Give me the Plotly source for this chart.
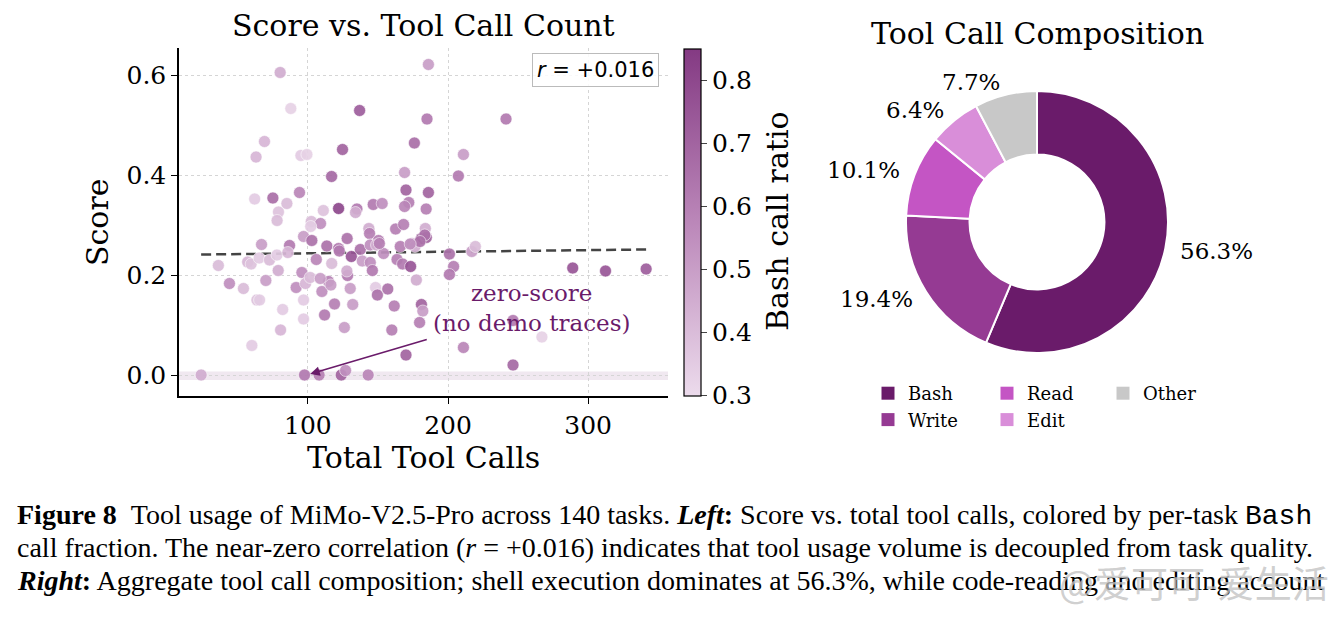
import plotly.graph_objects as go
import numpy as np

# ---------------- data ----------------
tool_calls = [80.2, 87.8, 136.9, 186.0, 185.0, 69.0, 63.0, 124.7, 176.0, 95.0,
              99.3, 116.9, 169.0, 62.0, 75.0, 94.0, 85.0, 79.0, 111.0, 121.9,
              135.0, 134.0, 146.6, 153.0, 170.0, 172.0, 169.0, 186.0, 184.4, 241.4,
              211.0, 207.4, 78.0, 102.4, 109.0, 102.0, 96.9, 102.8, 66.9, 86.9,
              113.5, 143.5, 144.0, 128.0, 162.6, 168.3, 183.8, 181.0, 184.5, 121.9,
              137.4, 144.5, 150.4, 165.9, 174.3, 36.1, 57.0, 59.5, 65.2, 72.6,
              77.9, 85.7, 106.0, 44.0, 54.0, 70.0, 78.8, 63.6, 65.5, 82.0,
              80.5, 60.0, 95.7, 91.6, 98.3, 96.9, 96.9, 110.0, 111.9, 114.7,
              101.6, 108.8, 23.8, 97.6, 108.0, 131.0, 122.4, 149.0, 138.8, 144.5,
              146.0, 154.0, 163.6, 167.6, 173.3, 176.4, 183.4, 177.4, 117.0, 116.4,
              128.3, 127.8, 130.2, 119.0, 132.0, 126.0, 148.3, 149.6, 157.0, 161.6,
              159.9, 170.0, 181.0, 182.0, 179.7, 123.8, 126.9, 143.0, 201.0, 204.0,
              201.0, 211.0, 217.0, 219.5, 289.0, 312.4, 341.4, 246.4, 267.0, 246.4,
              151.0, 180.0, 173.0]
scores = [0.605, 0.533, 0.529, 0.621, 0.512, 0.467, 0.436, 0.451, 0.464, 0.439,
          0.441, 0.397, 0.405, 0.352, 0.354, 0.365, 0.343, 0.326, 0.329, 0.333,
          0.332, 0.325, 0.341, 0.343, 0.370, 0.345, 0.337, 0.365, 0.332, 0.512,
          0.441, 0.398, 0.309, 0.307, 0.303, 0.297, 0.277, 0.269, 0.261, 0.259,
          0.258, 0.293, 0.283, 0.273, 0.292, 0.301, 0.293, 0.273, 0.275, 0.253,
          0.251, 0.260, 0.269, 0.257, 0.263, 0.219, 0.226, 0.222, 0.234, 0.230,
          0.240, 0.245, 0.231, 0.183, 0.173, 0.189, 0.209, 0.150, 0.150, 0.131,
          0.090, 0.059, 0.205, 0.175, 0.183, 0.150, 0.112, 0.167, 0.120, 0.187,
          0.195, 0.193, 0.000, 0.000, 0.000, 0.237, 0.248, 0.260, 0.228, 0.225,
          0.209, 0.243, 0.231, 0.222, 0.217, 0.257, 0.280, 0.190, 0.223, 0.180,
          0.199, 0.208, 0.173, 0.142, 0.141, 0.095, 0.175, 0.160, 0.172, 0.138,
          0.090, 0.040, 0.141, 0.128, 0.105, 0.000, 0.009, 0.000, 0.242, 0.217,
          0.201, 0.055, 0.247, 0.257, 0.214, 0.208, 0.212, 0.109, 0.076, 0.020,
          0.263, 0.267, 0.262]
bash_ratio = [0.45, 0.33, 0.72, 0.50, 0.62, 0.42, 0.42, 0.70, 0.66, 0.35,
              0.33, 0.68, 0.50, 0.35, 0.66, 0.58, 0.40, 0.38, 0.38, 0.80,
              0.62, 0.45, 0.62, 0.55, 0.70, 0.60, 0.58, 0.70, 0.60, 0.62,
              0.50, 0.62, 0.40, 0.40, 0.55, 0.35, 0.50, 0.65, 0.50, 0.62,
              0.65, 0.45, 0.60, 0.65, 0.60, 0.60, 0.45, 0.80, 0.70, 0.62,
              0.65, 0.55, 0.60, 0.60, 0.45, 0.40, 0.42, 0.38, 0.35, 0.40,
              0.35, 0.42, 0.58, 0.55, 0.40, 0.50, 0.45, 0.38, 0.35, 0.35,
              0.42, 0.35, 0.55, 0.55, 0.42, 0.35, 0.35, 0.55, 0.62, 0.60,
              0.40, 0.50, 0.45, 0.62, 0.60, 0.75, 0.62, 0.45, 0.50, 0.55,
              0.62, 0.55, 0.60, 0.62, 0.75, 0.45, 0.65, 0.45, 0.40, 0.50,
              0.62, 0.45, 0.50, 0.60, 0.50, 0.50, 0.35, 0.65, 0.65, 0.60,
              0.60, 0.70, 0.70, 0.50, 0.60, 0.70, 0.55, 0.58, 0.65, 0.60,
              0.62, 0.58, 0.50, 0.40, 0.75, 0.75, 0.72, 0.62, 0.33, 0.68,
              0.60, 0.65, 0.55]

trend_x = [23.8, 341.4]
trend_y = [0.241, 0.251]
zero_band = [-0.010, 0.007]
r_value = 0.016

x_ticks = [100, 200, 300]
y_ticks = [0.0, 0.2, 0.4, 0.6]
cbar_ticks = [0.3, 0.4, 0.5, 0.6, 0.7, 0.8]
cbar_range = [0.3, 0.85]

tool_names = ["Bash", "Write", "Read", "Edit", "Other"]
tool_shares = [56.3, 19.4, 10.1, 6.4, 7.7]
tool_colors = ["#6a1b6a", "#953a93", "#c455c4", "#d98ed9", "#c8c8c8"]

# ---------------- layout helpers ----------------
W, H = 1341, 637
def px(x):
    return x / W
def py(y):
    return 1 - y / H

SERIF = "DejaVu Serif"
PURPLE = "#6a1b6a"

fig = go.Figure()

# trend line
fig.add_trace(go.Scatter(x=trend_x, y=trend_y, mode="lines",
                         line=dict(color="#444444", width=2.5, dash="10px,5px"),
                         showlegend=False, hoverinfo="skip"))

# scatter
fig.add_trace(go.Scatter(
    x=tool_calls, y=scores, mode="markers", showlegend=False,
    marker=dict(size=12, color=bash_ratio, cmin=cbar_range[0], cmax=cbar_range[1],
                colorscale=[[0, "#ecdbec"], [0.5, "#bb87b9"], [1, "#843a83"]],
                opacity=0.92, line=dict(color="white", width=0.6),
                colorbar=dict(x=px(684), xanchor="left", xpad=0,
                              y=py(222), yanchor="middle", ypad=0,
                              len=347 / H, lenmode="fraction",
                              thickness=17, thicknessmode="pixels",
                              outlinecolor="black", outlinewidth=1.2,
                              ticks="outside", ticklen=6, tickwidth=1.2,
                              tickvals=cbar_ticks,
                              ticktext=[f"{v:.1f}" for v in cbar_ticks],
                              tickfont=dict(family=SERIF, size=25, color="black"))),
))

# donut
fig.add_trace(go.Pie(
    values=tool_shares, labels=tool_names, sort=False, direction="clockwise",
    rotation=0, hole=0.515, textinfo="none", showlegend=False,
    marker=dict(colors=tool_colors, line=dict(color="white", width=2)),
    domain=dict(x=[px(906), px(1168)], y=[py(353), py(91)]),
    hoverinfo="label+percent",
))

# legend entries (3 columns)
legend_keys = ["legend", "legend", "legend2", "legend2", "legend3"]
for name, col, lg in zip(tool_names, tool_colors, legend_keys):
    fig.add_trace(go.Scatter(x=[None], y=[None], mode="markers", name=name,
                             marker=dict(symbol="square", size=13, color=col),
                             legend=lg, showlegend=True))

leg_common = dict(font=dict(family=SERIF, size=18, color="black"),
                  bgcolor="rgba(0,0,0,0)", borderwidth=0, orientation="v",
                  yanchor="top", xanchor="left", tracegroupgap=0)

# ---------------- annotations ----------------
ann = []
title_font = dict(family=SERIF, size=30, color="black")
ann.append(dict(text="Score vs. Tool Call Count", x=px(423.5), y=py(25),
                xref="paper", yref="paper", showarrow=False, font=title_font,
                xanchor="center", yanchor="middle"))
ann.append(dict(text="Total Tool Calls", x=px(423.5), y=py(457),
                xref="paper", yref="paper", showarrow=False, font=title_font,
                xanchor="center", yanchor="middle"))
ann.append(dict(text="Score", x=px(97), y=py(222), textangle=-90,
                xref="paper", yref="paper", showarrow=False, font=title_font,
                xanchor="center", yanchor="middle"))
ann.append(dict(text="Bash call ratio", x=px(778), y=py(221), textangle=-90,
                xref="paper", yref="paper", showarrow=False, font=title_font,
                xanchor="center", yanchor="middle"))
ann.append(dict(text="Tool Call Composition", x=px(1037), y=py(33),
                xref="paper", yref="paper", showarrow=False, font=title_font,
                xanchor="center", yanchor="middle"))
# r box
ann.append(dict(text=f"<i>r</i> = {r_value:+.3f}", x=px(659), y=py(53),
                xref="paper", yref="paper", showarrow=False,
                xanchor="right", yanchor="top",
                font=dict(family="DejaVu Sans", size=21, color="black"),
                bgcolor="rgba(255,255,255,0.85)", bordercolor="#bbbbbb",
                borderwidth=1, borderpad=4))
# zero-score arrow and text
ann.append(dict(text="", x=101.6, y=0.002, ax=185.9, ay=0.072,
                xref="x", yref="y", axref="x", ayref="y",
                showarrow=True, arrowhead=2, arrowsize=1.2, arrowwidth=1.6,
                arrowcolor=PURPLE))
ann.append(dict(text="zero-score<br>(no demo traces)", x=px(531), y=py(308),
                xref="paper", yref="paper", showarrow=False,
                xanchor="center", yanchor="middle",
                font=dict(family=SERIF, size=23, color=PURPLE)))

# pie percentage labels
cx, cy, R = 1037, 222, 131
total = sum(tool_shares)
cum = 0.0
for v in tool_shares:
    frac = v / total
    mid = np.deg2rad(90 - 360 * (cum + frac / 2))
    cum += frac
    lx = cx + 1.1 * R * np.cos(mid)
    ly = cy - 1.1 * R * np.sin(mid)
    ann.append(dict(text=f"{v:.1f}%", x=px(lx), y=py(ly),
                    xref="paper", yref="paper", showarrow=False,
                    xanchor="left" if np.cos(mid) > 0 else "right",
                    yanchor="middle",
                    font=dict(family=SERIF, size=23, color="black")))

# caption
CAP = "Liberation Serif"
mono = "<span style='font-family:Liberation Mono'>Bash</span>"
caption_lines = [
    "<b>Figure 8</b>\u2002Tool usage of MiMo-V2.5-Pro across 140 tasks. <b><i>Left</i>:</b> "
    "Score vs. total tool calls, colored by per-task " + mono,
    "call fraction. The near-zero correlation (<i>r</i> = +0.016) indicates that tool usage "
    "volume is decoupled from task quality.",
    "<b><i>Right</i>:</b> Aggregate tool call composition; shell execution dominates at 56.3%, "
    "while code-reading and editing account",
]
for i, line in enumerate(caption_lines):
    ann.append(dict(text=line, x=px(15), y=py(515 + 32.5 * i),
                    xref="paper", yref="paper", showarrow=False,
                    xanchor="left", yanchor="middle",
                    font=dict(family=CAP, size=28, color="black")))
# watermark
ann.append(dict(text="@爱可可-爱生活", x=px(1331), y=py(582),
                xref="paper", yref="paper", showarrow=False,
                xanchor="right", yanchor="middle",
                font=dict(family="Noto Sans CJK SC", size=37,
                          color="rgba(195,195,195,0.8)")))

axis_font = dict(family=SERIF, size=25, color="black")
fig.update_layout(
    width=W, height=H, autosize=False,
    margin=dict(l=0, r=0, t=0, b=0),
    paper_bgcolor="white", plot_bgcolor="white",
    xaxis=dict(domain=[px(179), px(668)], range=[8, 357],
               tickvals=x_ticks, ticktext=[str(v) for v in x_ticks],
               showline=True, linecolor="black", linewidth=1.5,
               ticks="outside", ticklen=6, tickwidth=1.3, tickcolor="black",
               showgrid=True, gridcolor="#d5d5d5", griddash="dot", gridwidth=1,
               zeroline=False, tickfont=axis_font),
    yaxis=dict(domain=[py(396), py(48)], range=[-0.042, 0.654],
               tickvals=y_ticks, ticktext=[f"{v:.1f}" for v in y_ticks],
               showline=True, linecolor="black", linewidth=1.5,
               ticks="outside", ticklen=6, tickwidth=1.3, tickcolor="black",
               showgrid=True, gridcolor="#d5d5d5", griddash="dot", gridwidth=1,
               zeroline=False, tickfont=axis_font),
    shapes=[dict(type="rect", xref="x domain", yref="y", x0=0, x1=1,
                 y0=zero_band[0], y1=zero_band[1],
                 fillcolor="rgba(106,27,106,0.10)", line=dict(width=0),
                 layer="below")],
    annotations=ann,
    legend=dict(x=px(868), y=py(375), **leg_common),
    legend2=dict(x=px(987), y=py(375), **leg_common),
    legend3=dict(x=px(1103), y=py(375), **leg_common),
)

fig.write_html("out.html")
